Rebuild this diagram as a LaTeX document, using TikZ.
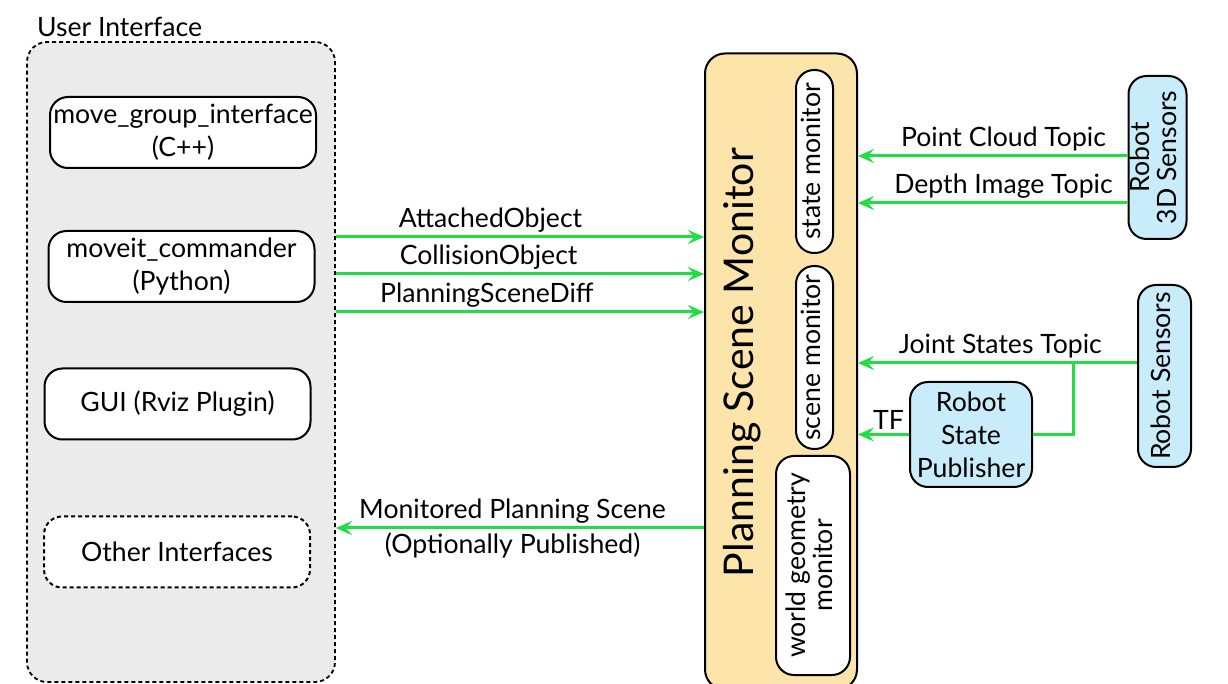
\documentclass[tikz,border=0pt]{standalone}
\usepackage{fontspec}
\setmainfont{Lato}
\usepackage{graphicx}
\usetikzlibrary{arrows.meta,positioning,calc}
\definecolor{uigray}{RGB}{235,235,235}
\definecolor{psmorange}{RGB}{252,228,170}
\definecolor{sensorblue}{RGB}{200,236,250}
\definecolor{topicgreen}{RGB}{34,222,70}
\newcommand{\uprot}[1]{\rotatebox{90}{\renewcommand{\arraystretch}{0.8}\begin{tabular}{@{}c@{}}#1\end{tabular}}}

\begin{document}
\begin{tikzpicture}[
    x=0.5pt, y=-0.5pt,
    font=\fontsize{13.3}{16.5}\selectfont,
    group/.style={rectangle, draw, line width=0.9pt, dash pattern=on 2pt off 1.5pt, rounded corners=10pt, fill=uigray, minimum width=154pt, minimum height=320pt},
    box/.style={rectangle, draw, line width=1pt, rounded corners=9pt, fill=white, minimum width=133pt, minimum height=35.5pt, align=center, inner sep=0pt},
    psmbox/.style={rectangle, draw, line width=1pt, rounded corners=10pt, fill=psmorange, minimum width=76pt, minimum height=318pt},
    monitor/.style={rectangle, draw, line width=1pt, rounded corners=9pt, fill=white, inner sep=0pt},
    sensor/.style={rectangle, draw, line width=1pt, rounded corners=9pt, fill=sensorblue, inner sep=0pt, align=center},
    arrow/.style={-{Stealth[length=8pt, width=7pt, inset=3pt]}, topicgreen, line width=1.5pt},
    topic/.style={black, inner sep=1.5pt}
]
\useasboundingbox (0,0) rectangle (1228,684);

\node[group] (ui) at (181,362) {};
\node[anchor=base west] (uititle) at (30,37) {User Interface};
\node[box] (mgi) at (183,132.5) {move\_group\_interface\\(C++)};
\node[box] (commander) at (181.5,266.5) {moveit\_commander\\(Python)};
\node[box] (gui) at (177.5,404) {GUI (Rviz Plugin)};
\node[box, dash pattern=on 2pt off 1.5pt] (other) at (177,552) {Other Interfaces};

\node[psmbox] (psm) at (781,371.5) {};
\node[font=\fontsize{20.5}{24}\selectfont] (psmtitle) at (742,362.5) {\rotatebox{90}{Planning Scene Monitor}};
\node[monitor, minimum width=18.5pt, minimum height=91.5pt] (statemon) at (814.5,161.5) {\uprot{state monitor}};
\node[monitor, minimum width=18.5pt, minimum height=91.5pt] (scenemon) at (814.5,357.5) {\uprot{scene monitor}};
\node[monitor, minimum width=37pt, minimum height=109.5pt] (worldmon) at (813,565.5) {\uprot{world geometry\\monitor}};

\node[sensor, minimum width=29pt, minimum height=81.5pt] (sens3d) at (1157.5,157.5) {\uprot{Robot\\3D Sensors}};
\node[sensor, minimum width=26.5pt, minimum height=91pt] (sensors) at (1164.5,376) {\uprot{Robot Sensors}};
\node[sensor, minimum width=61pt, minimum height=52.5pt] (rsp) at (971,434.5) {Robot\\State\\Publisher};

\draw[arrow] (ui.east |- 0,237) -- node[pos=0.42, above, topic] {AttachedObject} (psm.west |- 0,237);
\draw[arrow] (ui.east |- 0,274) -- node[pos=0.415, above, topic] {CollisionObject} (psm.west |- 0,274);
\draw[arrow] (ui.east |- 0,312) -- node[pos=0.41, above, topic] {PlanningSceneDiff} (psm.west |- 0,312);
\draw[arrow] (psm.west |- 0,528) -- node[pos=0.52, above, topic] {Monitored Planning Scene}
    node[pos=0.52, below, topic] {(Optionally Published)} (ui.east |- 0,528);

\draw[arrow] (sens3d.west |- 0,156) -- node[pos=0.46, above, topic] {Point Cloud Topic} (psm.east |- 0,156);
\draw[arrow] (sens3d.west |- 0,203) -- node[pos=0.46, above, topic] {Depth Image Topic} (psm.east |- 0,203);
\draw[arrow] (sensors.west |- 0,363) -- node[pos=0.49, above, topic] {Joint States Topic} (psm.east |- 0,363);
\coordinate (split) at (1073,363);
\draw[topicgreen, line width=1.5pt] (split) |- (rsp.east);
\draw[arrow] (rsp.west) -- node[pos=0.4, above, topic] {TF} (psm.east |- rsp.west);

\end{tikzpicture}
\end{document}
